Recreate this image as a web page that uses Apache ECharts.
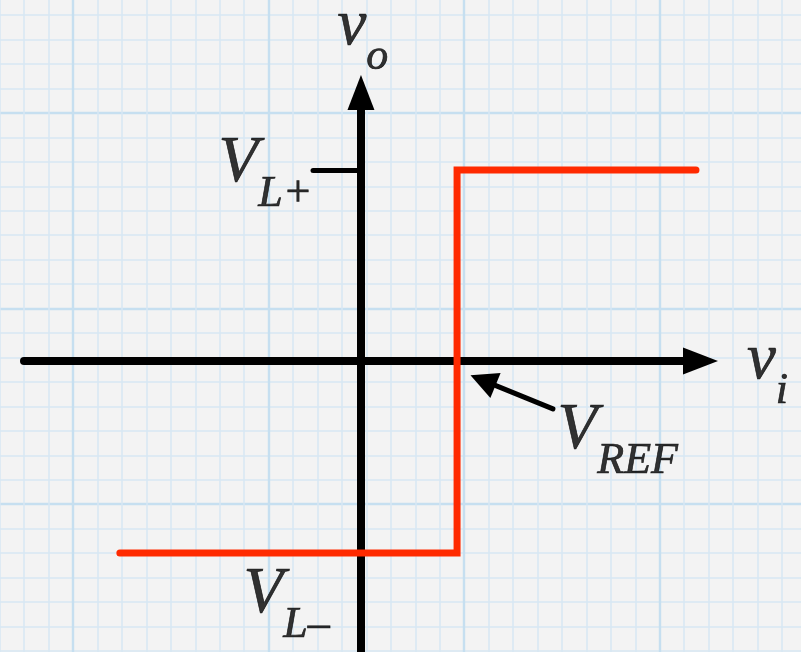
<!DOCTYPE html>
<html>
<head>
<meta charset="utf-8">
<title>Comparator transfer characteristic</title>
<script src="https://cdn.jsdelivr.net/npm/echarts@6/dist/echarts.min.js"></script>
<style>
  html, body { margin: 0; padding: 0; background: #f3f3f3; }
  #chart { width: 801px; height: 652px; }
</style>
</head>
<body>
<div id="chart"></div>
<script>
// Transfer characteristic of a comparator: v_o switches from V_L- to V_L+ at v_i = V_REF.
// Values are in grid squares of the graph paper.
const vRef = 3.93;
const vLPlus = 7.81;
const vLMinus = -7.85;

// Output curve (v_i, v_o)
const curveX = [-9.86, vRef, vRef, 13.70];
const curveY = [vLMinus, vLMinus, vLPlus, vLPlus];

// Tick marking V_L+ on the v_o axis
const tickX = [-1.96, 0];
const tickY = [vLPlus, vLPlus];

// Pointer to the switching point
const pointerX = [7.85, 4.99];
const pointerY = [-1.96, -0.79];

// Visible range of the v_i and v_o axes
const viRange = [-13.78, 13.885];
const voRange = [-11.90, 10.98];

// Text labels: main symbol, subscript, anchor (v_i, v_o)
const labelMain = ['v', 'V', 'v', 'V', 'V'];
const labelSub = ['o', 'L+', 'i', 'REF', 'L\u2013'];
const labelAnchorX = [0, 0, viRange[1], vRef, 0];
const labelAnchorY = [voRange[1], vLPlus, 0, 0, vLMinus];
const labelOffset = [[-23, -98], [-142, -38], [47, -32], [101, 38], [-117, 10]];

const FONT = '"Liberation Serif", "DejaVu Serif", serif';

const chart = echarts.init(document.getElementById('chart'), null, { renderer: 'canvas' });

const zip = (xs, ys) => xs.map((x, i) => [x, ys[i]]);

const textInk = { color: '#000', textBorderColor: '#000', textBorderWidth: 0.7 };
const richText = {
  m: Object.assign({ fontFamily: FONT, fontStyle: 'italic', fontSize: 65, lineHeight: 64, verticalAlign: 'top' }, textInk),
  s: Object.assign({ fontFamily: FONT, fontStyle: 'italic', fontSize: 44, lineHeight: 42, verticalAlign: 'top', padding: [41, 0, 0, 0], letterSpacing: 1 }, textInk)
};

const paperLine = '#d7e8f3';
const paperMajor = '#c6dff0';

const option = {
  backgroundColor: '#f3f3f3',
  animation: false,
  grid: [
    // graph paper
    { left: -122.6, right: -54.4, top: -82.6, bottom: -47.8, outerBoundsMode: 'none', containLabel: false },
    // plot
    { left: 24, right: 100.5, top: 92.5, bottom: 0, outerBoundsMode: 'none', containLabel: false }
  ],
  xAxis: [
    {
      gridIndex: 0, type: 'value', min: -8, max: 32, interval: 8,
      axisLine: { show: false }, axisTick: { show: false }, axisLabel: { show: false },
      splitLine: { show: true, lineStyle: { color: paperMajor, width: 2.4 } },
      minorTick: { show: false, splitNumber: 8 },
      minorSplitLine: { show: true, lineStyle: { color: paperLine, width: 1.5 } }
    },
    {
      gridIndex: 1, type: 'value', min: viRange[0], max: viRange[1],
      axisLine: {
        show: true, onZero: true,
        symbol: ['none', 'triangle'], symbolSize: [27, 35],
        lineStyle: { color: '#000', width: 8, cap: 'round' }
      },
      axisTick: { show: false }, axisLabel: { show: false }, splitLine: { show: false }
    }
  ],
  yAxis: [
    {
      gridIndex: 0, type: 'value', min: -8, max: 24, interval: 8, inverse: true,
      axisLine: { show: false }, axisTick: { show: false }, axisLabel: { show: false },
      splitLine: { show: true, lineStyle: { color: paperMajor, width: 2.4 } },
      minorTick: { show: false, splitNumber: 8 },
      minorSplitLine: { show: true, lineStyle: { color: paperLine, width: 1.5 } }
    },
    {
      gridIndex: 1, type: 'value', min: voRange[0], max: voRange[1],
      axisLine: {
        show: true, onZero: true,
        symbol: ['none', 'triangle'], symbolSize: [27, 35],
        lineStyle: { color: '#000', width: 8 }
      },
      axisTick: { show: false }, axisLabel: { show: false }, splitLine: { show: false }
    }
  ],
  series: [
    {
      name: 'v_o',
      type: 'line',
      xAxisIndex: 1, yAxisIndex: 1,
      data: zip(curveX, curveY),
      symbol: 'none',
      lineStyle: { color: '#ff2a00', width: 7, cap: 'round', join: 'miter' },
      z: 5, silent: true
    },
    {
      name: 'V_L+ tick',
      type: 'lines',
      coordinateSystem: 'cartesian2d',
      xAxisIndex: 1, yAxisIndex: 1,
      data: [{ coords: zip(tickX, tickY) }],
      lineStyle: { color: '#000', width: 5, cap: 'round', opacity: 1 },
      z: 4, silent: true
    },
    {
      name: 'V_REF pointer',
      type: 'lines',
      coordinateSystem: 'cartesian2d',
      xAxisIndex: 1, yAxisIndex: 1,
      data: [{ coords: zip(pointerX, pointerY) }],
      symbol: ['none', 'triangle'],
      symbolSize: [0, 27],
      lineStyle: { color: '#000', width: 5, cap: 'round', opacity: 1 },
      z: 4, silent: true
    },
    {
      name: 'labels',
      type: 'scatter',
      xAxisIndex: 1, yAxisIndex: 1,
      symbolSize: 1,
      itemStyle: { color: 'transparent' },
      silent: true,
      z: 6,
      data: labelMain.map((m, i) => ({
        value: [labelAnchorX[i], labelAnchorY[i]],
        label: {
          show: true,
          position: labelOffset[i],
          align: 'left',
          verticalAlign: 'top',
          formatter: '{m|' + m + '}{s|' + labelSub[i] + '}',
          rich: richText
        }
      }))
    }
  ]
};

chart.setOption(option);
</script>
</body>
</html>
